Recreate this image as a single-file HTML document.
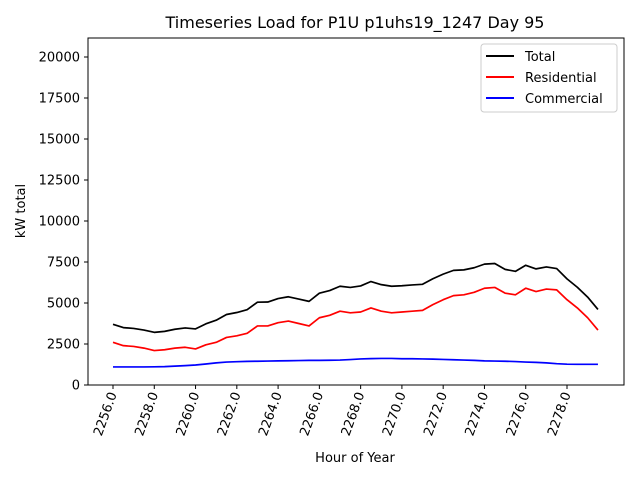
<!DOCTYPE html>
<html><head><meta charset="utf-8"><style>
body{margin:0;background:#fff;font-family:"DejaVu Sans","Liberation Sans",sans-serif;}
svg text{font-family:"DejaVu Sans","Liberation Sans",sans-serif;}
</style></head><body>
<svg id="chart" width="640" height="480" xmlns="http://www.w3.org/2000/svg">
<rect x="0" y="0" width="640" height="480" fill="#fff"/>
<text x="355" y="28" font-size="16" text-anchor="middle">Timeseries Load for P1U p1uhs19_1247  Day 95</text>
<g id="plot"></g>
<rect x="88" y="38" width="536" height="347" fill="none" stroke="#000" stroke-width="1"/>
<text x="355" y="462" font-size="13" text-anchor="middle">Hour of Year</text>
<text transform="translate(25,211) rotate(-90)" font-size="13" text-anchor="middle">kW total</text>
<g>
<rect x="481" y="44" width="136" height="68" rx="3" fill="#fff" stroke="#ccc"/>
<line x1="486" y1="56" x2="514" y2="56" stroke="#000" stroke-width="2"/>
<text x="525" y="61" font-size="13">Total</text>
<line x1="486" y1="77" x2="514" y2="77" stroke="#f00" stroke-width="2"/>
<text x="525" y="82" font-size="13">Residential</text>
<line x1="486" y1="98" x2="514" y2="98" stroke="#00f" stroke-width="2"/>
<text x="525" y="103" font-size="13">Commercial</text>
</g>
</svg>
<script>
const hours = [2256,2256.5,2257,2257.5,2258,2258.5,2259,2259.5,2260,2260.5,2261,2261.5,2262,2262.5,2263,2263.5,2264,2264.5,2265,2265.5,2266,2266.5,2267,2267.5,2268,2268.5,2269,2269.5,2270,2270.5,2271,2271.5,2272,2272.5,2273,2273.5,2274,2274.5,2275,2275.5,2276,2276.5,2277,2277.5,2278,2278.5,2279,2279.5];
const residential = [2600,2400,2350,2250,2100,2150,2250,2300,2200,2450,2600,2900,3000,3150,3600,3600,3800,3900,3750,3600,4100,4250,4500,4400,4450,4700,4500,4400,4450,4500,4550,4900,5200,5450,5500,5650,5900,5950,5600,5500,5900,5700,5850,5800,5200,4700,4100,3350];
const commercial = [1100,1100,1100,1100,1110,1120,1150,1180,1220,1280,1350,1400,1420,1440,1450,1460,1470,1480,1490,1500,1500,1510,1520,1550,1590,1610,1620,1620,1600,1600,1590,1580,1560,1540,1520,1500,1470,1460,1450,1430,1400,1380,1350,1300,1270,1260,1260,1260];
const total = [3700,3500,3450,3350,3210,3270,3400,3480,3420,3730,3950,4300,4420,4590,5050,5060,5270,5380,5240,5100,5600,5760,6020,5950,6040,6310,6120,6020,6050,6100,6140,6480,6760,6990,7020,7150,7370,7410,7050,6930,7300,7080,7200,7100,6470,5960,5360,4610];
const xTicks = [2256,2258,2260,2262,2264,2266,2268,2270,2272,2274,2276,2278];
const yTicks = [0,2500,5000,7500,10000,12500,15000,17500,20000];
const X = h => 113 + (h - 2256) * (454 / 22);
const Y = v => 385 - v * (328 / 20000);
const NS = "http://www.w3.org/2000/svg";
const plot = document.getElementById('plot');
function mk(tag, attrs){const e=document.createElementNS(NS,tag);for(const k in attrs)e.setAttribute(k,attrs[k]);plot.appendChild(e);return e;}
yTicks.forEach(v=>{
  const t=mk('line',{x1:84,x2:88,y1:Y(v),y2:Y(v),stroke:'#000'});
  
  
  const l=mk('text',{x:80,y:Y(v)+4.5,'font-size':13,'text-anchor':'end'});
  l.textContent=v;
  
  
});
xTicks.forEach(h=>{
  const t=mk('line',{x1:X(h),x2:X(h),y1:385,y2:389,stroke:'#000'});
  
  
  const l=mk('text',{x:0,y:0,'font-size':13,'text-anchor':'end',transform:`translate(${X(h)+4},394) rotate(-70)`});
  l.textContent=h.toFixed(1);
  
  
});
[[commercial,'#00f','commercial-line'],[residential,'#f00','residential-line'],[total,'#000','total-line']].forEach(([s,c,n])=>{
  const p=mk('polyline',{points:s.map((v,i)=>X(hours[i])+','+Y(v)).join(' '),fill:'none',stroke:c,'stroke-width':1.7,'stroke-linejoin':'round'});
  
  
});
</script>
</body></html>
